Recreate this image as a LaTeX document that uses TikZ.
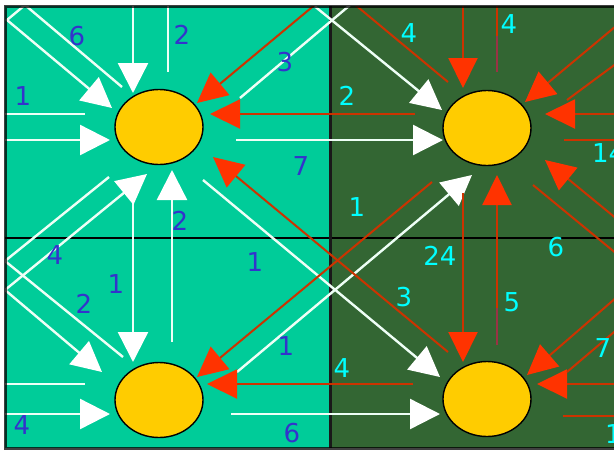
\documentclass[tikz,border=0pt]{standalone}
\usepackage{fontspec}
\setmainfont{DejaVu Sans}
\usetikzlibrary{arrows.meta,shapes.geometric}
\definecolor{tealbg}{HTML}{00CC99}
\definecolor{dkgreen}{HTML}{336633}
\definecolor{redline}{HTML}{CC3300}
\definecolor{redhead}{HTML}{FF3300}
\definecolor{maroon}{HTML}{993344}
\definecolor{wline}{HTML}{EEFFF6}
\definecolor{lblue}{HTML}{3333CC}
\definecolor{lcyan}{HTML}{00FFFF}
\definecolor{hubfill}{HTML}{FFCC00}
\begin{document}
\begin{tikzpicture}[x=1pt,y=-1pt,
  wl/.style={draw=wline, line width=2.4pt},
  wa/.style={wl, -{Triangle[length=30pt,width=30pt,color=white,fill=white]}},
  wab/.style={wl, {Triangle[length=30pt,width=30pt,color=white,fill=white]}-{Triangle[length=30pt,width=30pt,color=white,fill=white]}},
  rl/.style={draw=redline, line width=2pt},
  ra/.style={rl, -{Triangle[length=30pt,width=29pt,color=redhead,fill=redhead]}},
  hub/.style={ellipse, draw=black, line width=1.4pt, fill=hubfill, minimum width=88pt, minimum height=75pt, inner sep=0pt},
  lb/.style={text=lblue, font=\fontsize{26}{26}\selectfont, inner sep=0pt},
  lc/.style={text=lcyan, font=\fontsize{26}{26}\selectfont, inner sep=0pt}]
\useasboundingbox (0,0) rectangle (614,451);
\fill[white] (0,0) rectangle (614,451);
\begin{scope}
\clip (5,6) rectangle (614,448);
\fill[tealbg] (5,6) rectangle (330,448);
\fill[dkgreen] (330,6) rectangle (614,448);
\draw[black, line width=2pt] (5,238) -- (614,238);
\draw[black!90, line width=3pt] (330,6) -- (330,448);
% white connectors (from the teal column)
\draw[wl] (5,114) -- (85,114);
\draw[wa] (0,140) -- (110,140);
\draw[wa] (133,0) -- (133,93);
\draw[wl] (168,0) -- (168,72);
\draw[wa] (122,87) -- (25,5) -- (7,20) -- (112,108);
\draw[wl] (240,98) -- (356,0);
\draw[wa] (307,0) -- (442,110);
\draw[wa] (236,140) -- (443,140);
\draw[wa] (203,180) -- (440,377);
\draw[wa] (133,178) -- (133,362);
\draw[wa] (172,342) -- (172,170);
\draw[wl] (109,177) -- (5,261) -- (123,357);
\draw[wab] (147,174) -- (5,290) -- (102,372);
\draw[wl] (5,384) -- (85,384);
\draw[wa] (0,414) -- (110,414);
\draw[wa] (231,414) -- (440,414);
\draw[wa] (237,372) -- (472,175);
% red connectors (from the dark column)
\draw[ra] (448,82) -- (335,-12) -- (197,103);
\draw[ra] (415,114) -- (210,114);
\draw[ra] (463,0) -- (463,88);
\draw[rl] (497,72) -- (497,0);
\draw[maroon, line width=2pt] (497,72) -- (497,36);
\draw[ra] (640,6) -- (525,102);
\draw[rl] (567,100) -- (640,46);
\draw[ra] (640,114) -- (545,114);
\draw[rl] (564,140) -- (640,140);
\draw[ra] (640,238) -- (545,160);
\draw[rl] (533,185) -- (640,273);
\draw[ra] (463,193) -- (463,362);
\draw[ra] (497,345) -- (497,175);
\draw[maroon, line width=2pt] (497,345) -- (497,308);
\draw[ra] (432,182) -- (197,377);
\draw[ra] (448,352) -- (213,157);
\draw[ra] (413,384) -- (207,384);
\draw[ra] (640,384) -- (537,384);
\draw[rl] (563,416) -- (640,416);
\draw[ra] (640,277) -- (527,375);
\draw[rl] (567,372) -- (640,310);
% hubs
\node[hub] (A) at (159,127) {};
\node[hub] (B) at (487,128) {};
\node[hub] (C) at (159,400) {};
\node[hub] (D) at (487,399) {};
% labels
\node[lb] (t1) at (77,36) {6};
\node[lb] (t2) at (182,35) {2};
\node[lb] (t3) at (23,96) {1};
\node[lb] (t4) at (285,62) {3};
\node[lb] (t5) at (301,166) {7};
\node[lb] (t6) at (180,221) {2};
\node[lb] (t7) at (55,255) {4};
\node[lb] (t8) at (116,284) {1};
\node[lb] (t9) at (84,304) {2};
\node[lb] (t10) at (255,262) {1};
\node[lb] (t11) at (286,346) {1};
\node[lb] (t12) at (22,425) {4};
\node[lb] (t13) at (292,433) {6};
\node[lc] (u1) at (409,33) {4};
\node[lc] (u2) at (509,24) {4};
\node[lc] (u3) at (347,96) {2};
\node[lc, anchor=west] (u4) at (592,153) {14};
\node[lc] (u5) at (357,207) {1};
\node[lc] (u6) at (556,247) {6};
\node[lc] (u7) at (440,256) {24};
\node[lc] (u8) at (404,297) {3};
\node[lc] (u9) at (512,302) {5};
\node[lc] (u10) at (342,368) {4};
\node[lc] (u11) at (603,348) {7};
\node[lc, anchor=west] (u12) at (605,434) {1};
\end{scope}
\draw[black, draw opacity=0.75, line width=3pt] (620,6) -- (5,6) -- (5,448) -- (620,448);
\end{tikzpicture}
\end{document}
